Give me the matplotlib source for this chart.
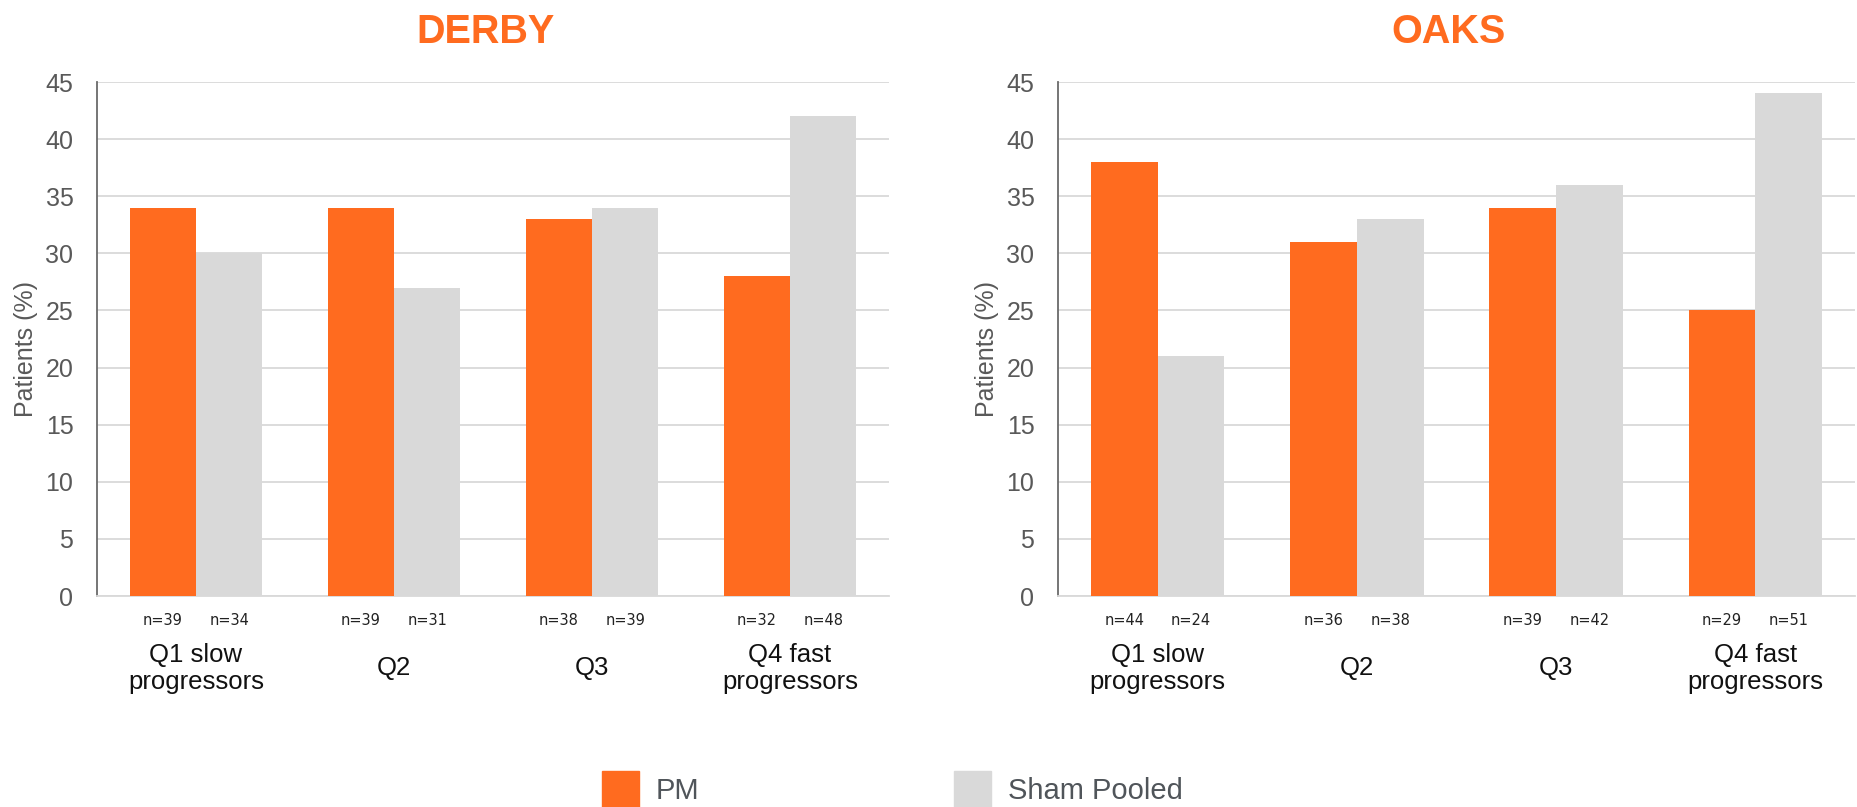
import matplotlib
matplotlib.use("Agg")
import matplotlib.pyplot as plt
from matplotlib.patches import Rectangle
import numpy as np

plt.rcParams['font.family'] = ['Liberation Sans', 'DejaVu Sans']

categories = ["Q1 slow\nprogressors", "Q2", "Q3", "Q4 fast\nprogressors"]
series_names = ["PM", "Sham Pooled"]

derby_pm = [34, 34, 33, 28]
derby_sham = [30, 27, 34, 42]
derby_n_pm = [39, 39, 38, 32]
derby_n_sham = [34, 31, 39, 48]

oaks_pm = [38, 31, 34, 25]
oaks_sham = [21, 33, 36, 44]
oaks_n_pm = [44, 36, 39, 29]
oaks_n_sham = [24, 38, 42, 51]

yticks = [0, 5, 10, 15, 20, 25, 30, 35, 40, 45]

ORANGE = "#FF6B1F"
GRAY = "#D9D9D9"
TEXT_GRAY = "#595959"

W, H = 1858, 807
fig = plt.figure(figsize=(W / 100, H / 100), dpi=100)


def px_axes(x0, y0, x1, y1):
    return fig.add_axes([x0 / W, 1 - y1 / H, (x1 - x0) / W, (y1 - y0) / H])


def panel(ax, title, pm, sham, n_pm, n_sham):
    x = np.arange(len(categories))
    bw = 0.335
    ax.bar(x - bw / 2, pm, width=bw, color=ORANGE, zorder=3)
    ax.bar(x + bw / 2, sham, width=bw, color=GRAY, zorder=3)
    ax.set_xlim(-0.5, len(categories) - 0.5)
    ax.set_ylim(0, 45)
    ax.set_yticks(yticks)
    ax.set_yticklabels([str(v) for v in yticks], fontsize=18, color=TEXT_GRAY)
    ax.tick_params(axis='y', length=0, pad=17)
    ax.set_xticks([])
    ax.grid(axis='y', color="#D9D9D9", linewidth=1.3, zorder=0)
    for s in ("top", "right"):
        ax.spines[s].set_visible(False)
    ax.spines["left"].set_color("#6a6a6a")
    ax.spines["left"].set_linewidth(1.3)
    ax.spines["bottom"].set_color("#D9D9D9")
    ax.spines["bottom"].set_linewidth(1.3)
    ax.set_ylabel("Patients (%)", fontsize=18, color=TEXT_GRAY)
    ax.yaxis.set_label_coords(-59 / 792, 0.48)
    ax.text(0.49, 1 + 50 / 513, title, transform=ax.transAxes, ha="center",
            va="center", fontsize=28.5, fontweight="bold", color=ORANGE)
    trans = ax.get_xaxis_transform()
    for i, lab in enumerate(categories):
        ax.text(i - bw / 2, -24 / 513, f"n={n_pm[i]}", transform=trans, ha="center",
                va="center", fontsize=10.5, color="#222222", family="DejaVu Sans")
        ax.text(i + bw / 2, -24 / 513, f"n={n_sham[i]}", transform=trans, ha="center",
                va="center", fontsize=10.5, color="#222222", family="DejaVu Sans")
        ax.text(i, -72 / 513, lab, transform=trans, ha="center", va="center",
                fontsize=18.5, color="#111111", linespacing=1.15)


ax1 = px_axes(97, 82, 889, 596)
panel(ax1, "DERBY", derby_pm, derby_sham, derby_n_pm, derby_n_sham)
ax2 = px_axes(1058, 82, 1855, 596)
panel(ax2, "OAKS", oaks_pm, oaks_sham, oaks_n_pm, oaks_n_sham)

# legend drawn as figure-level patches and labels
for (x0, name, col) in [(602, series_names[0], ORANGE), (954, series_names[1], GRAY)]:
    fig.patches.append(Rectangle((x0 / W, 0), 37 / W, 36 / H,
                                 transform=fig.transFigure, color=col))
    fig.text((x0 + 54) / W, 1 - 791 / H, name, fontsize=21, color="#50555a",
             va="center", ha="left")

fig.savefig("out.png", dpi=100)
